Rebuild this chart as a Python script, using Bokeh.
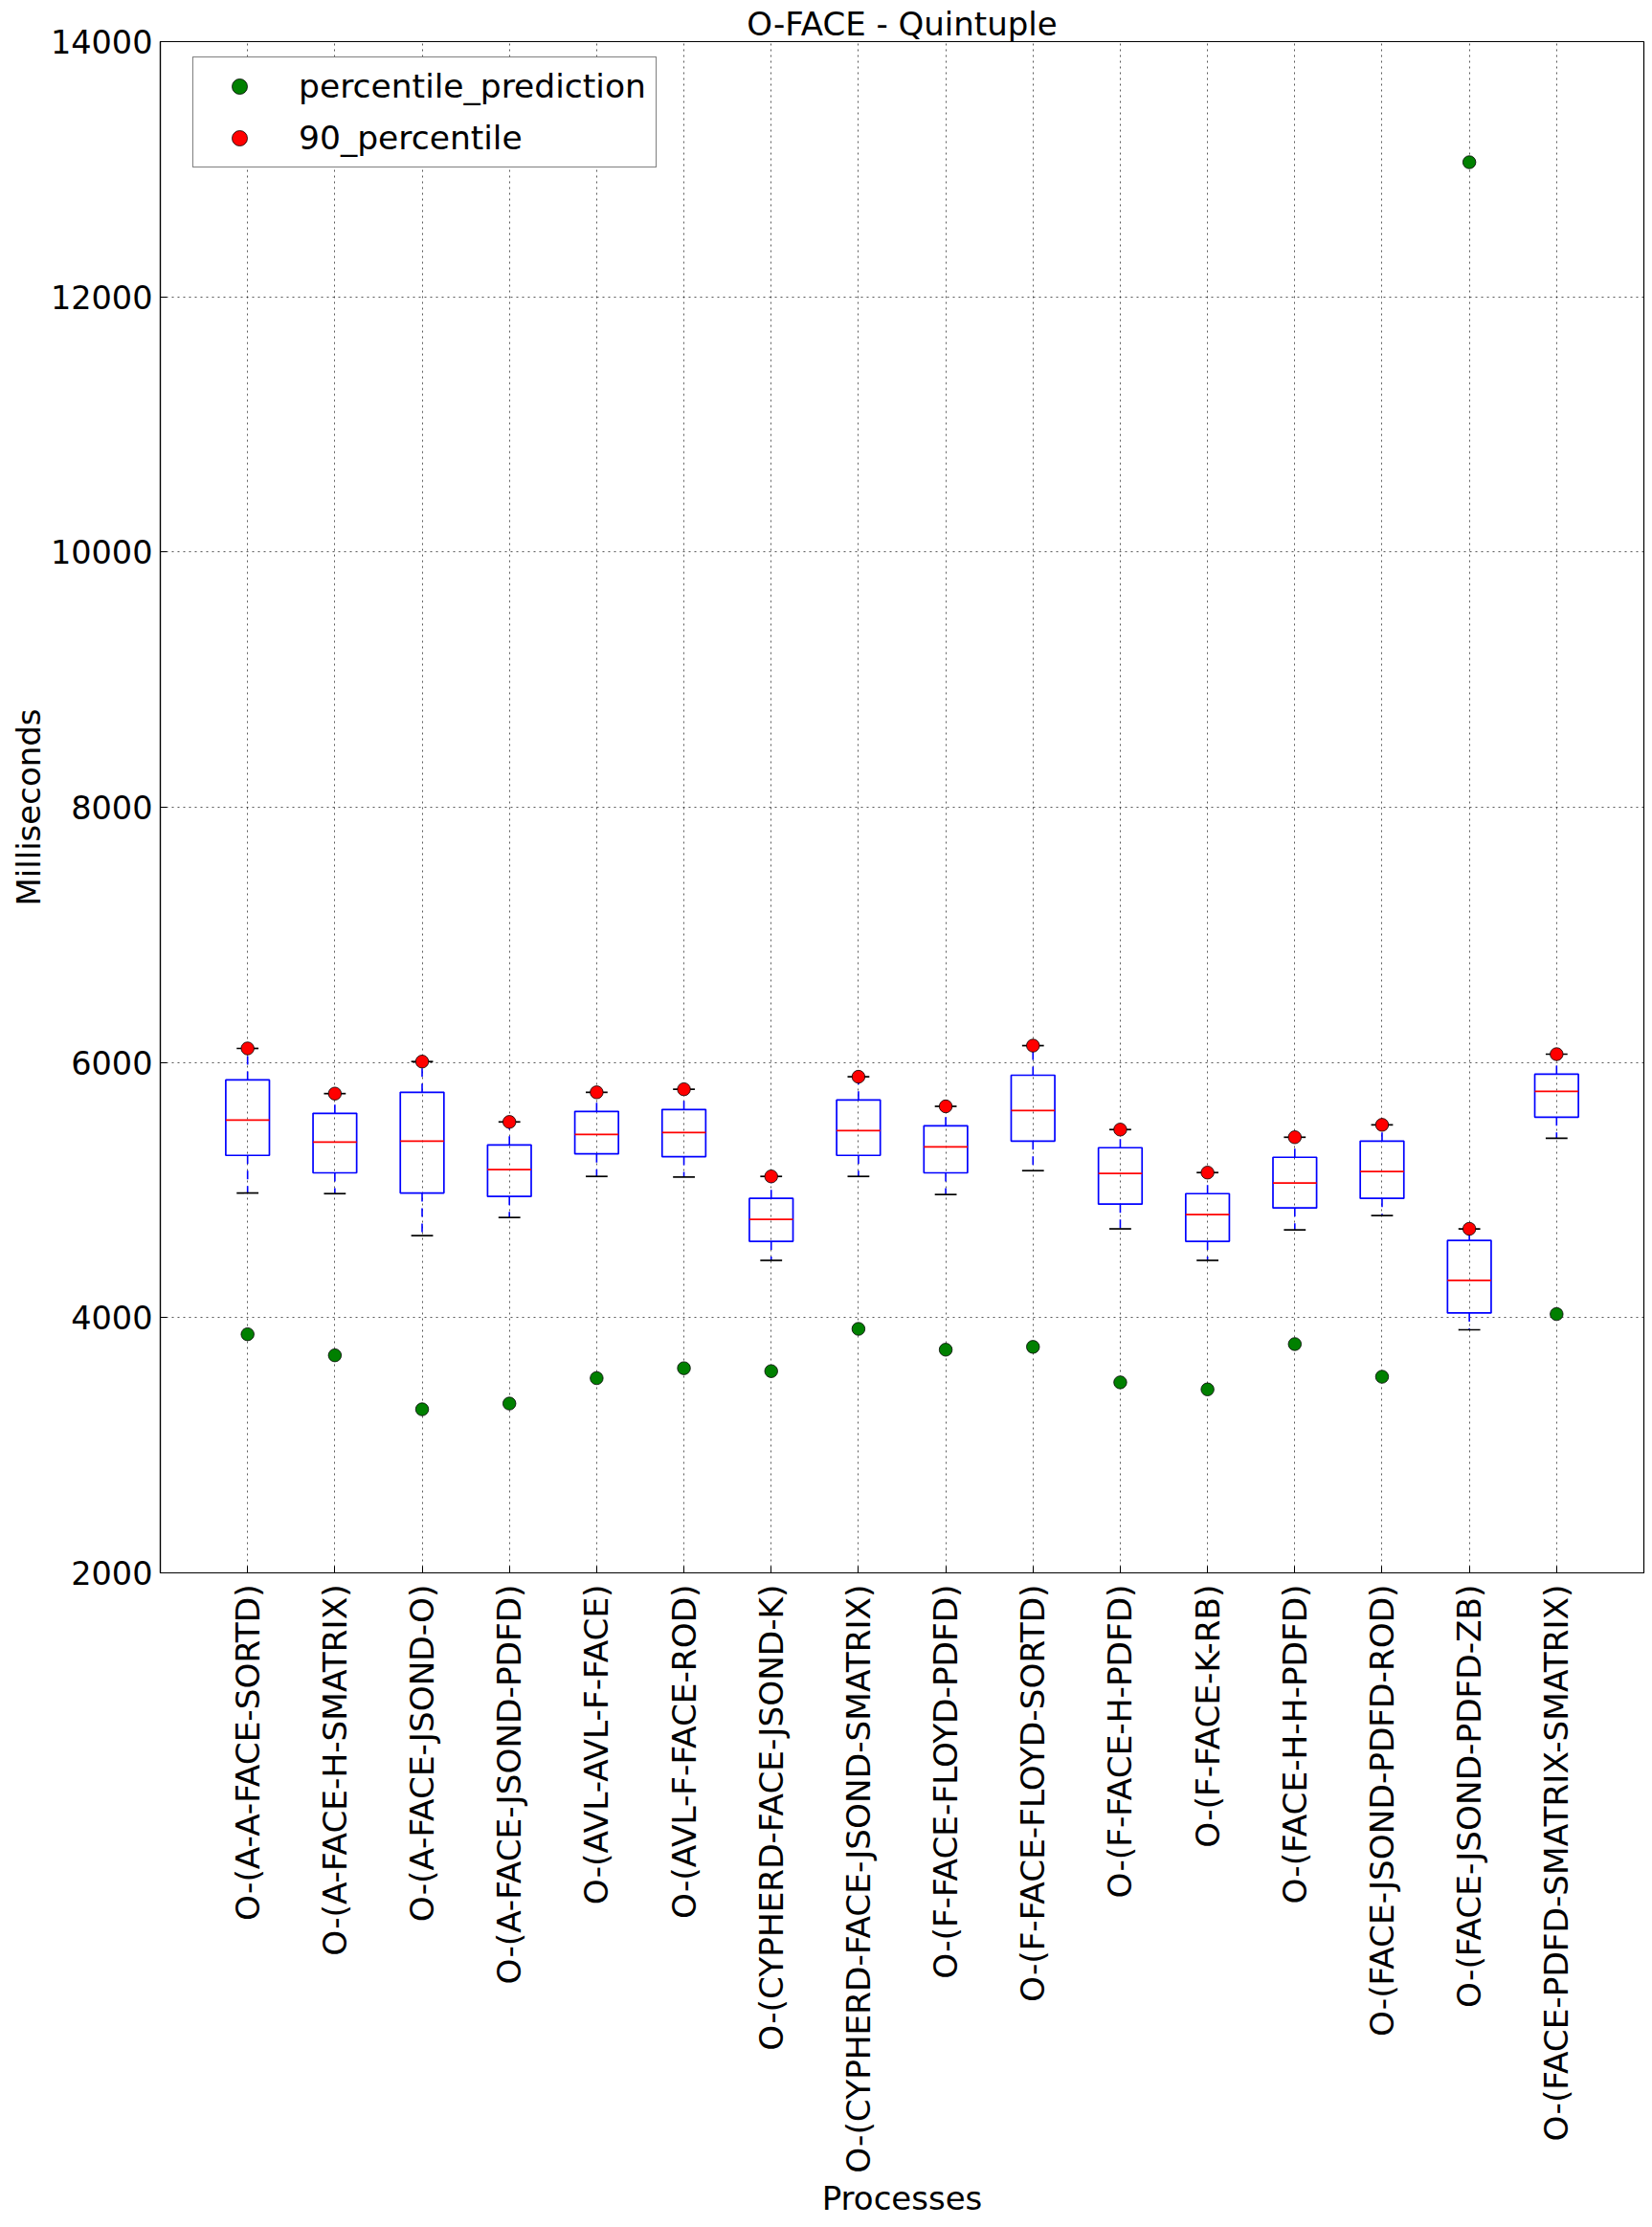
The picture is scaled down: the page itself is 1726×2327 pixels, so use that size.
import math
from bokeh.plotting import figure
from bokeh.models import (ColumnDataSource, FixedTicker, Legend, LegendItem,
                          Range1d, Title)
from bokeh.transform import dodge
from bokeh.embed import file_html
from bokeh.resources import INLINE

# ---------------- data ----------------
categories = [
    "O-(A-A-FACE-SORTD)",
    "O-(A-FACE-H-SMATRIX)",
    "O-(A-FACE-JSOND-O)",
    "O-(A-FACE-JSOND-PDFD)",
    "O-(AVL-AVL-F-FACE)",
    "O-(AVL-F-FACE-ROD)",
    "O-(CYPHERD-FACE-JSOND-K)",
    "O-(CYPHERD-FACE-JSOND-SMATRIX)",
    "O-(F-FACE-FLOYD-PDFD)",
    "O-(F-FACE-FLOYD-SORTD)",
    "O-(F-FACE-H-PDFD)",
    "O-(F-FACE-K-RB)",
    "O-(FACE-H-H-PDFD)",
    "O-(FACE-JSOND-PDFD-ROD)",
    "O-(FACE-JSOND-PDFD-ZB)",
    "O-(FACE-PDFD-SMATRIX-SMATRIX)",
]
percentile_90 = [6110, 5756, 6007, 5534, 5766, 5790, 5107, 5888,
                 5656, 6132, 5474, 5137, 5414, 5511, 4696, 6065]
upper_quartile = [5863, 5601, 5766, 5354, 5616, 5631, 4935, 5706,
                  5504, 5900, 5332, 4972, 5257, 5384, 4606, 5908]
median = [5549, 5376, 5384, 5160, 5436, 5451, 4770, 5466,
          5339, 5623, 5130, 4808, 5055, 5145, 4292, 5773]
lower_quartile = [5272, 5135, 4977, 4950, 5284, 5262, 4598, 5272,
                  5135, 5384, 4890, 4598, 4860, 4935, 4037, 5571]
lower_whisker = [4977, 4972, 4643, 4785, 5107, 5102, 4449, 5107,
                 4965, 5152, 4696, 4449, 4688, 4800, 3905, 5406]
percentile_prediction = [3870, 3705, 3282, 3327, 3526, 3604, 3581, 3912,
                         3749, 3771, 3493, 3438, 3793, 3537, 13055, 4028]
y_ticks = [2000, 4000, 6000, 8000, 10000, 12000, 14000]

positions = list(range(1, len(categories) + 1))

FONT = "DejaVu Sans"
FS = "34px"
BLUE = "#0000ff"
RED = "#ff0000"
GREEN = "#008000"

src = ColumnDataSource(dict(
    x=positions, cat=categories, hi=percentile_90, q3=upper_quartile,
    med=median, q1=lower_quartile, lo=lower_whisker, pred=percentile_prediction,
))

p = figure(width=1726, height=2327,
           x_range=Range1d(0, len(categories) + 1),
           y_range=Range1d(y_ticks[0], y_ticks[-1]),
           output_backend="svg", toolbar_location=None,
           min_border_left=167, min_border_right=9,
           min_border_top=43, min_border_bottom=684)
p.background_fill_color = "white"
p.border_fill_color = "white"
p.outline_line_color = "black"
p.outline_line_width = 1.2

p.title = Title(text="O-FACE - Quintuple", align="center",
                text_font=FONT, text_font_size=FS, text_font_style="normal",
                text_color="black", standoff=-2)

# grid
p.xgrid.ticker = FixedTicker(ticks=positions)
p.ygrid.ticker = FixedTicker(ticks=y_ticks)
p.grid.grid_line_color = "black"
p.grid.grid_line_alpha = 0.65
p.grid.grid_line_width = 1
p.grid.grid_line_dash = "2 4"

# axes
xa = p.xaxis[0]
xa.ticker = FixedTicker(ticks=positions)
xa.major_label_overrides = {x: c for x, c in zip(positions, categories)}
xa.major_label_orientation = math.pi / 2
xa.major_label_standoff = 12
xa.major_label_text_font = FONT
xa.major_label_text_font_size = "34.3px"
xa.major_label_text_color = "black"
xa.axis_label = "Processes"
xa.axis_label_text_font = FONT
xa.axis_label_text_font_size = FS
xa.axis_label_text_font_style = "normal"
xa.axis_label_text_color = "black"
xa.axis_label_standoff = 3

ya = p.yaxis[0]
ya.ticker = FixedTicker(ticks=y_ticks)
ya.major_label_standoff = 8
ya.major_label_text_font = FONT
ya.major_label_text_font_size = "33.5px"
ya.major_label_text_color = "black"
ya.axis_label = "Milliseconds"
ya.axis_label_text_font = FONT
ya.axis_label_text_font_size = FS
ya.axis_label_text_font_style = "normal"
ya.axis_label_text_color = "black"
ya.axis_label_standoff = 0

for ax in (xa, ya):
    ax.major_tick_in = 7
    ax.major_tick_out = 0
    ax.minor_tick_in = 0
    ax.minor_tick_out = 0
    ax.axis_line_color = "black"
    ax.axis_line_width = 1.2
    ax.major_tick_line_color = "black"

# box plot parts
p.segment(x0="x", x1="x", y0="q3", y1="hi", source=src,
          line_color=BLUE, line_width=1.6, line_dash="9 7")
p.segment(x0="x", x1="x", y0="q1", y1="lo", source=src,
          line_color=BLUE, line_width=1.6, line_dash="9 7")
p.vbar(x="x", width=0.5, top="q3", bottom="q1", source=src,
       fill_color=None, line_color=BLUE, line_width=1.7)
p.segment(x0=dodge("x", -0.25), x1=dodge("x", 0.25), y0="med", y1="med",
          source=src, line_color=RED, line_width=1.7)
p.segment(x0=dodge("x", -0.125), x1=dodge("x", 0.125), y0="hi", y1="hi",
          source=src, line_color="black", line_width=1.7)
p.segment(x0=dodge("x", -0.125), x1=dodge("x", 0.125), y0="lo", y1="lo",
          source=src, line_color="black", line_width=1.7)

r90 = p.scatter("x", "hi", source=src, size=13.5, fill_color=RED,
                line_color="black", line_width=0.8)
rpred = p.scatter("x", "pred", source=src, size=13.5, fill_color=GREEN,
                  line_color="black", line_width=0.8)

legend = Legend(items=[LegendItem(label="percentile_prediction", renderers=[rpred]),
                       LegendItem(label="90_percentile", renderers=[r90])],
                location=(34, 1600 - 18 - 114),
                label_text_font=FONT, label_text_font_size="34.5px",
                label_text_color="black",
                label_height=40, glyph_height=40, glyph_width=76,
                label_standoff=24, padding=10, spacing=14, margin=0,
                border_line_color="black", border_line_width=1.2,
                background_fill_color="white", background_fill_alpha=1)
p.add_layout(legend)

open("out.html", "w").write(file_html(p, INLINE))
